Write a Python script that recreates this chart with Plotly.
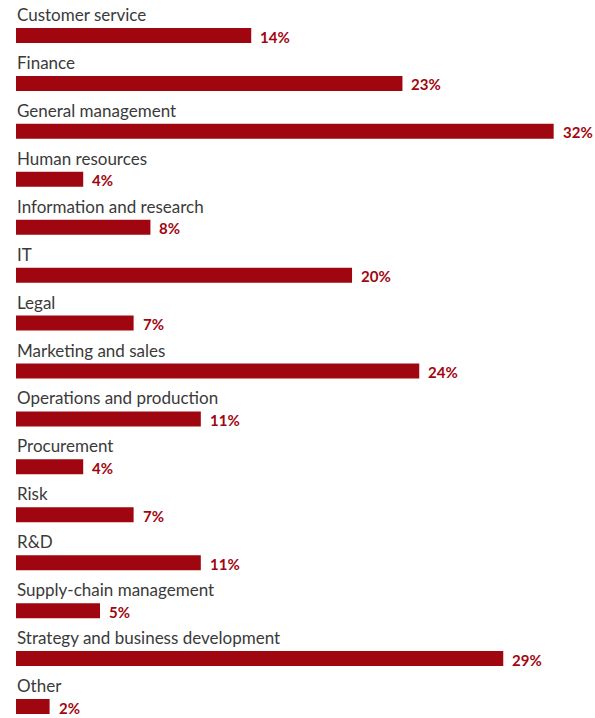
import plotly.graph_objects as go

categories = [
    "Customer service", "Finance", "General management", "Human resources",
    "Information and research", "IT", "Legal", "Marketing and sales",
    "Operations and production", "Procurement", "Risk", "R&D",
    "Supply-chain management", "Strategy and business development", "Other",
]
values = [14, 23, 32, 4, 8, 20, 7, 24, 11, 4, 7, 11, 5, 29, 2]
value_labels = [f"{v}%" for v in values]

BAR = "#9f0610"
TEXT = "#3a3a3a"
FONT = "Lato"

idx = list(range(len(categories)))

fig = go.Figure(go.Bar(
    x=values, y=idx, orientation="h",
    marker=dict(color=BAR, line=dict(width=0)),
    width=0.313,
    hoverinfo="skip",
))

annotations = []
for i, (cat, v, lab) in enumerate(zip(categories, values, value_labels)):
    annotations.append(dict(
        x=0, y=i, xref="x", yref="y", text=cat, showarrow=False,
        xanchor="left", yanchor="middle", yshift=21, xshift=-1,
        font=dict(family=FONT, size=17, color=TEXT),
    ))
    annotations.append(dict(
        x=v, y=i, xref="x", yref="y", text=f"<b>{lab}</b>", showarrow=False,
        xanchor="left", yanchor="middle", xshift=7, yshift=-1,
        font=dict(family=FONT, size=15, color=BAR),
    ))

fig.update_layout(
    width=595, height=718,
    margin=dict(l=16, r=0, t=0, b=0),
    plot_bgcolor="white", paper_bgcolor="white",
    showlegend=False,
    annotations=annotations,
    xaxis=dict(range=[0, 34.46], visible=False, fixedrange=True),
    yaxis=dict(range=[14.24, -0.741], visible=False, fixedrange=True),
)

fig.write_html("out.html")
